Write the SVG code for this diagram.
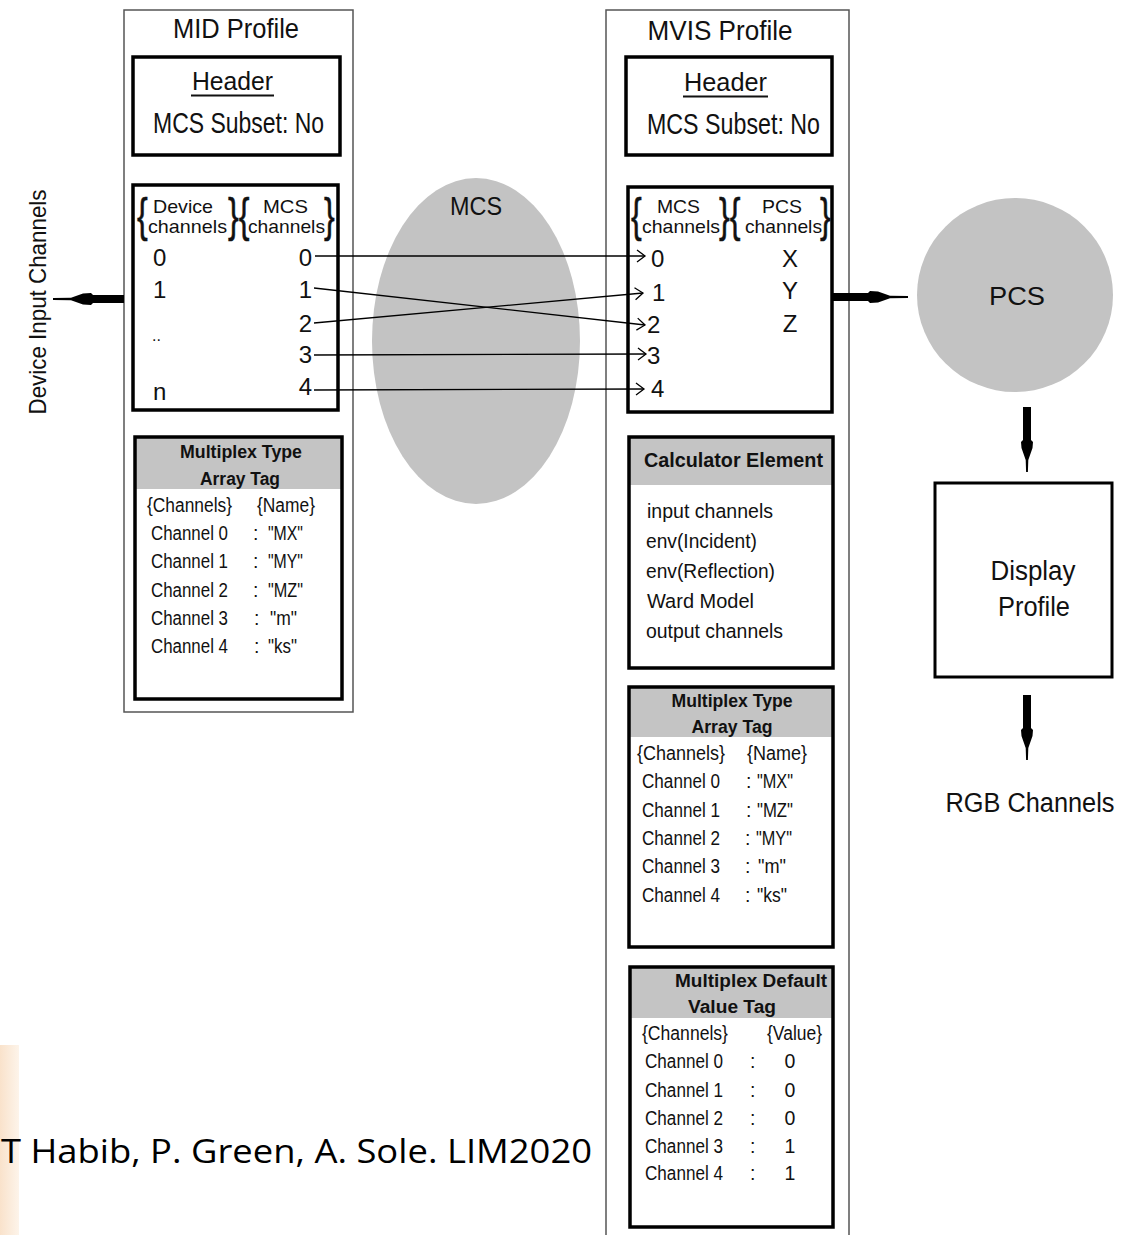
<svg xmlns="http://www.w3.org/2000/svg" width="1124" height="1235" viewBox="0 0 1124 1235">
<defs>
<style>
.t{font-family:"Liberation Sans",Arial,sans-serif;fill:#111}
.b{font-weight:bold}
.s28{font-size:28px}.s25{font-size:25px}.s29{font-size:29px}.s19{font-size:19px}.s24{font-size:24px}
.s18{font-size:18px}.s195{font-size:19.5px}.s205{font-size:20.5px}.s26{font-size:26px}
.mid{text-anchor:middle}.end{text-anchor:end}
.brace{font-family:"Liberation Sans",Arial,sans-serif;font-size:46px;fill:#111;stroke:#111;stroke-width:0.6}
.outer{fill:#fff;stroke:#555;stroke-width:1.5}
.box{fill:none;stroke:#000;stroke-width:3.5}
.boxw{fill:#fff;stroke:#000;stroke-width:3.5}
.hdr{fill:#c4c4c4}
.ln{stroke:#000;stroke-width:1.3;fill:none;marker-end:url(#chev)}
.thick{fill:#000}
.gray{fill:#c3c3c3}
</style>
<marker id="chev" viewBox="-11 -8 13 16" markerWidth="13" markerHeight="16" refX="0" refY="0" orient="auto" markerUnits="userSpaceOnUse">
<path d="M-8,-6 L0,0 L-8,6" fill="none" stroke="#000" stroke-width="1.3"/>
</marker>
<linearGradient id="peach" x1="0" y1="0" x2="1" y2="0">
<stop offset="0" stop-color="#f9e2cb"/>
<stop offset="1" stop-color="#fdf4ea"/>
</linearGradient>
</defs>
<rect width="1124" height="1235" fill="#fff"/>
<rect x="0" y="1045" width="19" height="190" fill="url(#peach)"/>

<g id="mid-profile">
<rect class="outer" x="124" y="10" width="229" height="702"/>
<text class="t s28 mid" x="236" y="38" textLength="126" lengthAdjust="spacingAndGlyphs">MID Profile</text>
<g id="mid-header">
<rect class="boxw" x="133" y="57" width="207" height="98"/>
<text class="t s25" x="192" y="90" textLength="81" lengthAdjust="spacingAndGlyphs">Header</text>
<line x1="191" y1="95.5" x2="274" y2="95.5" stroke="#111" stroke-width="2"/>
<text class="t s29" x="153" y="133" textLength="171" lengthAdjust="spacingAndGlyphs">MCS Subset: No</text>
</g>
<g id="mid-channels">
<rect class="boxw" x="133" y="185" width="205" height="225"/>
<text class="brace" transform="translate(137,231) scale(0.7,1)">{</text>
<text class="t s19" x="153" y="213" textLength="60" lengthAdjust="spacingAndGlyphs">Device</text>
<text class="t s19" x="148" y="233" textLength="79" lengthAdjust="spacingAndGlyphs">channels</text>
<text class="brace" transform="translate(228,231) scale(0.7,1)">}{</text>
<text class="t s19" x="263" y="213" textLength="45" lengthAdjust="spacingAndGlyphs">MCS</text>
<text class="t s19" x="248" y="233" textLength="77" lengthAdjust="spacingAndGlyphs">channels</text>
<text class="brace" transform="translate(324,231) scale(0.7,1)">}</text>
<text class="t s24" x="153" y="266">0</text>
<text class="t s24" x="153" y="298">1</text>
<text class="t" x="152" y="341" font-size="16">..</text>
<text class="t s24" x="153" y="400">n</text>
<text class="t s24 end" x="312" y="266">0</text>
<text class="t s24 end" x="312" y="298">1</text>
<text class="t s24 end" x="312" y="332">2</text>
<text class="t s24 end" x="312" y="363">3</text>
<text class="t s24 end" x="312" y="395">4</text>
</g>
<g id="mid-multiplex">
<rect class="hdr" x="135" y="437" width="207" height="52"/>
<rect class="box" x="135" y="437" width="207" height="262"/>
<text class="t b s18 mid" x="241" y="458" textLength="122" lengthAdjust="spacingAndGlyphs">Multiplex Type</text>
<text class="t b s18 mid" x="240" y="485" textLength="80" lengthAdjust="spacingAndGlyphs">Array Tag</text>
<text class="t s195" x="147" y="512" textLength="85" lengthAdjust="spacingAndGlyphs">{Channels}</text>
<text class="t s195" x="257" y="512" textLength="58" lengthAdjust="spacingAndGlyphs">{Name}</text>
<text class="t s195" x="151" y="540" textLength="77" lengthAdjust="spacingAndGlyphs">Channel 0</text>
<text class="t s195" x="151" y="568" textLength="77" lengthAdjust="spacingAndGlyphs">Channel 1</text>
<text class="t s195" x="151" y="597" textLength="77" lengthAdjust="spacingAndGlyphs">Channel 2</text>
<text class="t s195" x="151" y="625" textLength="77" lengthAdjust="spacingAndGlyphs">Channel 3</text>
<text class="t s195" x="151" y="653" textLength="77" lengthAdjust="spacingAndGlyphs">Channel 4</text>
<text class="t s195" x="253" y="540">:</text>
<text class="t s195" x="253" y="568">:</text>
<text class="t s195" x="253" y="597">:</text>
<text class="t s195" x="254" y="625">:</text>
<text class="t s195" x="254" y="653">:</text>
<text class="t s195" x="268" y="540" textLength="35" lengthAdjust="spacingAndGlyphs">"MX"</text>
<text class="t s195" x="268" y="568" textLength="35" lengthAdjust="spacingAndGlyphs">"MY"</text>
<text class="t s195" x="268" y="597" textLength="35" lengthAdjust="spacingAndGlyphs">"MZ"</text>
<text class="t s195" x="270" y="625" textLength="27" lengthAdjust="spacingAndGlyphs">"m"</text>
<text class="t s195" x="268" y="653" textLength="29" lengthAdjust="spacingAndGlyphs">"ks"</text>
</g>
</g>

<g id="mcs">
<ellipse class="gray" cx="476" cy="341" rx="104" ry="163"/>
<text class="t mid" x="476" y="215" font-size="25" textLength="52" lengthAdjust="spacingAndGlyphs">MCS</text>
</g>

<g id="mvis-profile">
<rect class="outer" x="606" y="10" width="243" height="1240"/>
<text class="t s28 mid" x="720" y="40" textLength="145" lengthAdjust="spacingAndGlyphs">MVIS Profile</text>
<g id="mvis-header">
<rect class="boxw" x="626" y="57" width="206" height="98"/>
<text class="t s25" x="684" y="91" textLength="83" lengthAdjust="spacingAndGlyphs">Header</text>
<line x1="683" y1="96.5" x2="768" y2="96.5" stroke="#111" stroke-width="2"/>
<text class="t s29" x="647" y="134" textLength="173" lengthAdjust="spacingAndGlyphs">MCS Subset: No</text>
</g>
<g id="mvis-channels">
<rect class="boxw" x="628" y="187" width="204" height="225"/>
<text class="brace" transform="translate(631,231) scale(0.7,1)">{</text>
<text class="t s19" x="657" y="213" textLength="43" lengthAdjust="spacingAndGlyphs">MCS</text>
<text class="t s19" x="642" y="233" textLength="78" lengthAdjust="spacingAndGlyphs">channels</text>
<text class="brace" transform="translate(719,231) scale(0.7,1)">}{</text>
<text class="t s19" x="762" y="213" textLength="40" lengthAdjust="spacingAndGlyphs">PCS</text>
<text class="t s19" x="745" y="233" textLength="77" lengthAdjust="spacingAndGlyphs">channels</text>
<text class="brace" transform="translate(820,231) scale(0.7,1)">}</text>
<text class="t s24" x="651" y="267">0</text>
<text class="t s24" x="652" y="301">1</text>
<text class="t s24" x="647" y="333">2</text>
<text class="t s24" x="647" y="364">3</text>
<text class="t s24" x="651" y="397">4</text>
<text class="t s24 mid" x="790" y="267">X</text>
<text class="t s24 mid" x="790" y="299">Y</text>
<text class="t s24 mid" x="790" y="332">Z</text>
</g>
<g id="calculator">
<rect class="hdr" x="629" y="437" width="204" height="48"/>
<rect class="box" x="629" y="437" width="204" height="231"/>
<text class="t b" x="644" y="467" font-size="19.5" textLength="179" lengthAdjust="spacingAndGlyphs">Calculator Element</text>
<text class="t s205" x="647" y="518" textLength="126" lengthAdjust="spacingAndGlyphs">input channels</text>
<text class="t s205" x="646" y="548" textLength="111" lengthAdjust="spacingAndGlyphs">env(Incident)</text>
<text class="t s205" x="646" y="578" textLength="129" lengthAdjust="spacingAndGlyphs">env(Reflection)</text>
<text class="t s205" x="647" y="608" textLength="107" lengthAdjust="spacingAndGlyphs">Ward Model</text>
<text class="t s205" x="646" y="638" textLength="137" lengthAdjust="spacingAndGlyphs">output channels</text>
</g>
<g id="mvis-multiplex">
<rect class="hdr" x="629" y="687" width="204" height="50"/>
<rect class="box" x="629" y="687" width="204" height="260"/>
<text class="t b s18 mid" x="732" y="707" textLength="121" lengthAdjust="spacingAndGlyphs">Multiplex Type</text>
<text class="t b s18 mid" x="732" y="733" textLength="81" lengthAdjust="spacingAndGlyphs">Array Tag</text>
<text class="t s195" x="637" y="760" textLength="88" lengthAdjust="spacingAndGlyphs">{Channels}</text>
<text class="t s195" x="747" y="760" textLength="60" lengthAdjust="spacingAndGlyphs">{Name}</text>
<text class="t s195" x="642" y="788" textLength="78" lengthAdjust="spacingAndGlyphs">Channel 0</text>
<text class="t s195" x="642" y="817" textLength="78" lengthAdjust="spacingAndGlyphs">Channel 1</text>
<text class="t s195" x="642" y="845" textLength="78" lengthAdjust="spacingAndGlyphs">Channel 2</text>
<text class="t s195" x="642" y="873" textLength="78" lengthAdjust="spacingAndGlyphs">Channel 3</text>
<text class="t s195" x="642" y="902" textLength="78" lengthAdjust="spacingAndGlyphs">Channel 4</text>
<text class="t s195" x="746" y="788">:</text>
<text class="t s195" x="746" y="817">:</text>
<text class="t s195" x="745" y="845">:</text>
<text class="t s195" x="745" y="873">:</text>
<text class="t s195" x="745" y="902">:</text>
<text class="t s195" x="757" y="788" textLength="36" lengthAdjust="spacingAndGlyphs">"MX"</text>
<text class="t s195" x="757" y="817" textLength="36" lengthAdjust="spacingAndGlyphs">"MZ"</text>
<text class="t s195" x="756" y="845" textLength="36" lengthAdjust="spacingAndGlyphs">"MY"</text>
<text class="t s195" x="758" y="873" textLength="28" lengthAdjust="spacingAndGlyphs">"m"</text>
<text class="t s195" x="757" y="902" textLength="30" lengthAdjust="spacingAndGlyphs">"ks"</text>
</g>
<g id="mvis-default">
<rect class="hdr" x="630" y="967" width="203" height="51"/>
<rect class="box" x="630" y="967" width="203" height="260"/>
<text class="t b s18" x="675" y="987" textLength="152" lengthAdjust="spacingAndGlyphs">Multiplex Default</text>
<text class="t b s18" x="688" y="1013" textLength="88" lengthAdjust="spacingAndGlyphs">Value Tag</text>
<text class="t s195" x="642" y="1040" textLength="86" lengthAdjust="spacingAndGlyphs">{Channels}</text>
<text class="t s195" x="767" y="1040" textLength="55" lengthAdjust="spacingAndGlyphs">{Value}</text>
<text class="t s195" x="645" y="1068" textLength="78" lengthAdjust="spacingAndGlyphs">Channel 0</text>
<text class="t s195" x="645" y="1097" textLength="78" lengthAdjust="spacingAndGlyphs">Channel 1</text>
<text class="t s195" x="645" y="1125" textLength="78" lengthAdjust="spacingAndGlyphs">Channel 2</text>
<text class="t s195" x="645" y="1153" textLength="78" lengthAdjust="spacingAndGlyphs">Channel 3</text>
<text class="t s195" x="645" y="1180" textLength="78" lengthAdjust="spacingAndGlyphs">Channel 4</text>
<text class="t s195" x="750" y="1068">:</text>
<text class="t s195" x="750" y="1097">:</text>
<text class="t s195" x="750" y="1125">:</text>
<text class="t s195" x="750" y="1153">:</text>
<text class="t s195" x="750" y="1180">:</text>
<text class="t s195 mid" x="790" y="1068">0</text>
<text class="t s195 mid" x="790" y="1097">0</text>
<text class="t s195 mid" x="790" y="1125">0</text>
<text class="t s195 mid" x="790" y="1153">1</text>
<text class="t s195 mid" x="790" y="1180">1</text>
</g>
</g>

<g id="pcs">
<ellipse class="gray" cx="1015" cy="295" rx="98" ry="97"/>
<text class="t s26 mid" x="1017" y="305" textLength="56" lengthAdjust="spacingAndGlyphs">PCS</text>
</g>

<g id="display-profile">
<rect x="935" y="483" width="177" height="194" fill="#fff" stroke="#000" stroke-width="3"/>
<text class="t mid" x="1033" y="580" font-size="27" textLength="85" lengthAdjust="spacingAndGlyphs">Display</text>
<text class="t mid" x="1034" y="616" font-size="27" textLength="72" lengthAdjust="spacingAndGlyphs">Profile</text>
</g>

<g id="device-input-label">
<text class="t mid" transform="translate(46,302) rotate(-90)" font-size="24" textLength="225" lengthAdjust="spacingAndGlyphs">Device Input Channels</text>
</g>

<g id="rgb-label">
<text class="t mid" x="1030" y="812" font-size="27" textLength="169" lengthAdjust="spacingAndGlyphs">RGB Channels</text>
</g>

<g id="citation">
<text x="1" y="1163" font-family="'Open Sans','Noto Sans',sans-serif" font-size="32" fill="#000" textLength="591" lengthAdjust="spacingAndGlyphs">T Habib, P. Green, A. Sole. LIM2020</text>
</g>

<g id="connectors">
<path class="ln" d="M315,256 L645,256"/>
<path class="ln" d="M314,288 L645,325"/>
<path class="ln" d="M314,323 L643,293"/>
<path class="ln" d="M314,355 L646,354"/>
<path class="ln" d="M314,390 L644,389"/>
<path class="thick" transform="translate(53,299) rotate(180)" d="M0,-0.9 L-18,-1.3 L-30,-5.5 L-38,-6 L-40,-4 L-71,-4 L-71,4 L-40,4 L-38,6 L-30,5.5 L-18,1.3 L0,0.9 Z"/>
<path class="thick" transform="translate(908,297)" d="M0,-0.9 L-18,-1.3 L-30,-5.5 L-38,-6 L-40,-4 L-76,-4 L-76,4 L-40,4 L-38,6 L-30,5.5 L-18,1.3 L0,0.9 Z"/>
<path class="thick" transform="translate(1027,472) rotate(90)" d="M0,-0.9 L-12,-1.3 L-24,-5.5 L-30,-6 L-32,-4 L-65,-4 L-65,4 L-32,4 L-30,6 L-24,5.5 L-12,1.3 L0,0.9 Z"/>
<path class="thick" transform="translate(1027,760) rotate(90)" d="M0,-0.9 L-12,-1.3 L-24,-5.5 L-30,-6 L-32,-4 L-65,-4 L-65,4 L-32,4 L-30,6 L-24,5.5 L-12,1.3 L0,0.9 Z"/>
</g>
</svg>
